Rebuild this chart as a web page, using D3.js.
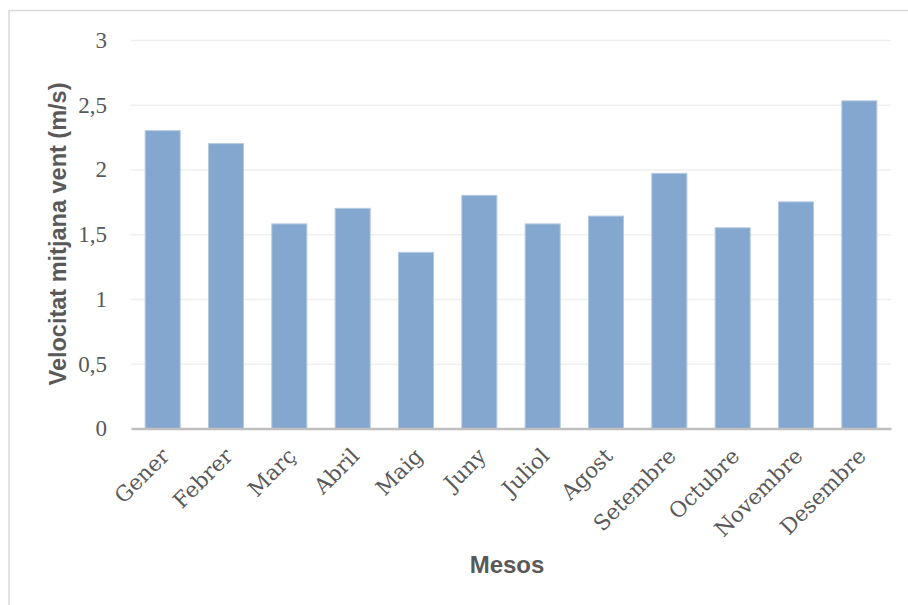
<!DOCTYPE html>
<html>
<head>
<meta charset="utf-8">
<script src="https://cdn.jsdelivr.net/npm/d3@7"></script>
<style>
	body { margin: 0; background: #fff; }
	svg { display: block; }
</style>
</head>
<body>
<svg width="908" height="605"></svg>
<script>

	// mean wind speed per month
	var months = ["Gener", "Febrer", "Març", "Abril", "Maig", "Juny", "Juliol", "Agost", "Setembre", "Octubre", "Novembre", "Desembre"];
	var speeds = [2.30, 2.20, 1.58, 1.70, 1.36, 1.80, 1.58, 1.64, 1.97, 1.55, 1.75, 2.53];
	var y_ticks = [0, 0.5, 1, 1.5, 2, 2.5, 3];

	var chart = (function(){

		var svg = d3.select("svg");
		var left = 131, right = 891, top = 40, bottom = 428.5;

		var x = d3.scaleBand()
			.domain(months)
			.range([left, right])
			.paddingInner(0.447)
			.paddingOuter(0.2235);

		var y = d3.scaleLinear()
			.domain([0, 3])
			.range([bottom, top]);

		function format_tick(d){
			return String(d).replace('.', ',');
		}

		function draw(){

			// outer frame of the chart, right and bottom sides run off the page
			svg.append('rect')
				.attr('x', 9).attr('y', 10.5)
				.attr('width', 1000).attr('height', 700)
				.attr('fill', 'none')
				.attr('stroke', '#d9d9d9')
				.attr('stroke-width', 1.5);

			// gridlines
			svg.append('g').attr('class', 'grid')
				.call(d3.axisLeft(y).tickValues(y_ticks.slice(1)).tickSize(-(right - left)).tickFormat(''))
				.attr('transform', 'translate(' + left + ',0)')
				.call(function(g){
					g.select('.domain').remove();
					g.selectAll('line').attr('stroke', '#efefef').attr('stroke-width', 1.5);
				});

			// y tick labels
			svg.append('g').attr('class', 'y-axis')
				.attr('transform', 'translate(' + left + ',0)')
				.call(d3.axisLeft(y).tickValues(y_ticks).tickSize(0).tickPadding(24).tickFormat(format_tick))
				.call(function(g){
					g.select('.domain').remove();
					g.selectAll('text')
						.attr('fill', '#595959')
						.attr('font-family', '"Liberation Serif", serif')
						.attr('font-size', 23);
				});

			// bars
			svg.append('g').attr('class', 'bars')
				.selectAll('rect')
				.data(speeds)
				.enter()
				.append('rect')
				.attr('x', function(d, i){ return x(months[i]); })
				.attr('y', function(d){ return y(d); })
				.attr('width', x.bandwidth())
				.attr('height', function(d){ return y(0) - y(d); })
				.attr('fill', '#84a7cf')
				.attr('stroke', '#b3c8e2')
				.attr('stroke-width', 1);

			// x axis line and rotated month labels
			var x_axis = svg.append('g').attr('class', 'x-axis')
				.attr('transform', 'translate(0,' + bottom + ')')
				.call(d3.axisBottom(x).tickSize(0).tickPadding(0));

			x_axis.select('.domain')
				.attr('stroke', '#bfbfbf')
				.attr('stroke-width', 2.5);

			x_axis.selectAll('text')
				.attr('fill', '#595959')
				.attr('font-family', '"DejaVu Serif", serif')
				.attr('font-size', 21.5)
				.attr('text-anchor', 'end')
				.attr('dy', 0)
				.attr('y', 0)
				.attr('transform', 'translate(8,29) rotate(-45)');

			// axis titles
			svg.append('text')
				.attr('x', (left + right) / 2 - 4)
				.attr('y', 573)
				.attr('text-anchor', 'middle')
				.attr('font-family', '"Liberation Sans", Arial, sans-serif')
				.attr('font-weight', 'bold')
				.attr('font-size', 24)
				.attr('fill', '#595959')
				.text('Mesos');

			svg.append('text')
				.attr('transform', 'translate(66,234) rotate(-90)')
				.attr('text-anchor', 'middle')
				.attr('font-family', '"Liberation Sans", Arial, sans-serif')
				.attr('font-weight', 'bold')
				.attr('font-size', 23.5)
				.attr('fill', '#595959')
				.text('Velocitat mitjana vent (m/s)');
		}

		draw();

		return null;
	})();

</script>
</body>
</html>
